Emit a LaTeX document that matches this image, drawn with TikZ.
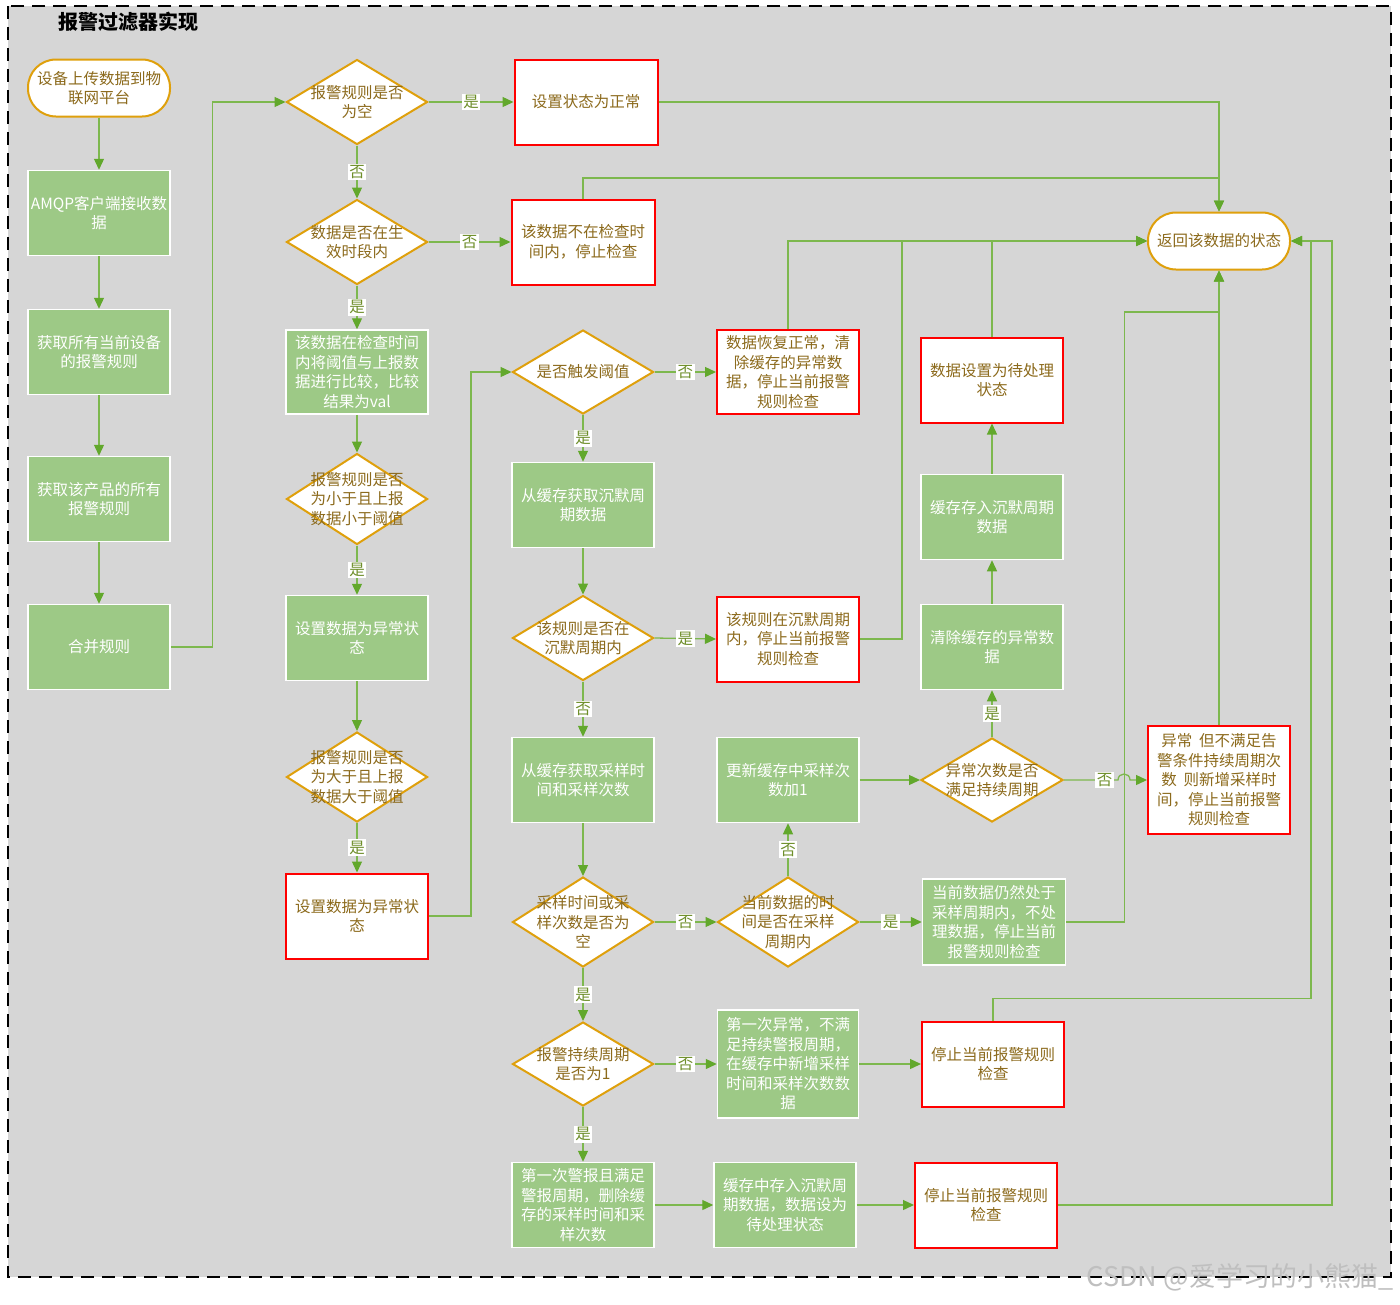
\documentclass[tikz,border=0pt]{standalone}
\usepackage{fontspec}
\setmainfont{Noto Sans CJK SC}
\usetikzlibrary{arrows.meta,shapes.geometric,calc}

\definecolor{bggray}{HTML}{D6D6D6}
\definecolor{boxgreen}{HTML}{9DC986}
\definecolor{linegreen}{HTML}{7DB84E}
\definecolor{tipgreen}{HTML}{62A82C}
\definecolor{gold}{HTML}{DFA00C}
\definecolor{txtbrown}{HTML}{8C6A1C}
\definecolor{lbltxt}{HTML}{6E8E2A}

\newcommand\nodefont{\fontsize{15.5}{19.5}\selectfont}

\begin{document}
\begin{tikzpicture}[x=1pt,y=-1pt,
  every node/.style={font=\nodefont, align=center},
  gbox/.style={rectangle, fill=boxgreen, draw=white, line width=1.5pt, text=white,
    minimum width=142pt, minimum height=85pt, inner sep=0pt},
  rbox/.style={rectangle, fill=white, draw=red, line width=2pt, text=txtbrown,
    minimum width=142pt, minimum height=85pt, inner sep=0pt},
  term/.style={rectangle, rounded corners=28pt, fill=white, draw=gold, line width=2pt,
    text=txtbrown, minimum width=142pt, minimum height=57pt, inner sep=0pt},
  dia/.style={diamond, fill=white, draw=gold, line width=2pt,
    minimum width=141pt, minimum height=85pt, inner sep=0pt},
  dtext/.style={text=txtbrown, align=center, inner sep=0pt},
  flow/.style={draw=linegreen, line width=1.3pt,
    -{Triangle[length=11pt,width=10pt,color=tipgreen]}},
  lbl/.style={fill=white, inner sep=1.5pt, text=lbltxt},
]

% canvas and dashed frame
\useasboundingbox[fill=white] (0,0) rectangle (1400,1304);
\draw[fill=bggray, draw=black, line width=2pt, dash pattern=on 13pt off 8pt] (8,6) rectangle (1391,1277);
\node[font=\fontsize{20}{24}\selectfont\bfseries, text=black] (title) at (128,22) {报警过滤器实现};

% column 1: intake
\node[term] (start) at (99,88) {设备上传数据到物\\联网平台};
\node[gbox] (amqp) at (99,213) {AMQP客户端接收数\\据};
\node[gbox] (devrules) at (99,352) {获取所有当前设备\\的报警规则};
\node[gbox] (prodrules) at (99,499) {获取该产品的所有\\报警规则};
\node[gbox] (merge) at (99,647) {合并规则};

% column 2: rule checks
\node[dia, label={[dtext]center:{报警规则是否\\为空}}] (d1) at (357,102) {};
\node[dia, label={[dtext]center:{数据是否在生\\效时段内}}] (d2) at (357,242) {};
\node[gbox, minimum height=84pt] (cmp) at (357,372) {该数据在检查时间\\内将阈值与上报数\\据进行比较，比较\\结果为val};
\node[dia, minimum height=91pt, label={[dtext]center:{报警规则是否\\为小于且上报\\数据小于阈值}}] (d3) at (357,499) {};
\node[gbox] (abn1) at (357,638) {设置数据为异常状\\态};
\node[dia, minimum height=90pt, label={[dtext]center:{报警规则是否\\为大于且上报\\数据大于阈值}}] (d4) at (357,777) {};
\node[rbox] (abn2) at (357,916) {设置数据为异常状\\态};

% column 3
\node[rbox, minimum width=143pt] (normal) at (586,102) {设置状态为正常};
\node[rbox, minimum width=143pt] (outtime) at (583,242) {该数据不在检查时\\间内，停止检查};
\node[dia, minimum height=84pt, label={[dtext]center:{是否触发阈值}}] (d5) at (583,372) {};
\node[gbox] (getsil) at (583,505) {从缓存获取沉默周\\期数据};
\node[dia, label={[dtext]center:{该规则是否在\\沉默周期内}}] (d6) at (583,638) {};
\node[gbox] (getsamp) at (583,780) {从缓存获取采样时\\间和采样次数};
\node[dia, minimum height=90pt, label={[dtext]center:{采样时间或采\\样次数是否为\\空}}] (d7) at (583,922) {};
\node[dia, minimum height=84pt, label={[dtext]center:{报警持续周期\\是否为1}}] (d10) at (583,1064) {};
\node[gbox] (firstalarm) at (583,1205) {第一次警报且满足\\警报周期，删除缓\\存的采样时间和采\\样次数};

% column 4
\node[rbox, minimum height=84pt] (recover) at (788,372) {数据恢复正常，清\\除缓存的异常数\\据，停止当前报警\\规则检查};
\node[rbox] (insil) at (788,639) {该规则在沉默周期\\内，停止当前报警\\规则检查};
\node[gbox] (addcnt) at (788,780) {更新缓存中采样次\\数加1};
\node[dia, minimum height=90pt, label={[dtext]center:{当前数据的时\\间是否在采样\\周期内}}] (d8) at (788,922) {};
\node[gbox, minimum width=141pt, minimum height=108pt] (firstabn) at (788,1064) {第一次异常，不满\\足持续警报周期，\\在缓存中新增采样\\时间和采样次数数\\据};
\node[gbox] (savesil2) at (785,1205) {缓存中存入沉默周\\期数据，数据设为\\待处理状态};

% column 5
\node[rbox] (pending) at (992,380) {数据设置为待处理\\状态};
\node[gbox] (savesil) at (992,517) {缓存存入沉默周期\\数据};
\node[gbox] (clear) at (992,647) {清除缓存的异常数\\据};
\node[dia, minimum width=142pt, minimum height=84pt, label={[dtext]center:{异常次数是否\\满足持续周期}}] (d9) at (992,780) {};
\node[gbox, minimum width=143pt, minimum height=86pt] (still) at (994,922) {当前数据仍然处于\\采样周期内，不处\\理数据，停止当前\\报警规则检查};
\node[rbox] (stop1) at (993,1064) {停止当前报警规则\\检查};
\node[rbox] (stop2) at (986,1205) {停止当前报警规则\\检查};

% column 6
\node[term] (ret) at (1219,241) {返回该数据的状态};
\node[rbox, minimum height=108pt] (partial) at (1219,780) {异常\ \ 但不满足告\\警条件持续周期次\\数\ \ 则新增采样时\\间，停止当前报警\\规则检查};

% junction points on the return routes
\coordinate (jtop) at (1219,178);
\coordinate (jbot) at (1219,312);
\coordinate (jr1) at (1311,241);
\coordinate (jr2) at (1332,241);
\coordinate (hop) at (1124,780);

% intake chain
\draw[flow] (start) -- (amqp);
\draw[flow] (amqp) -- (devrules);
\draw[flow] (devrules) -- (prodrules);
\draw[flow] (prodrules) -- (merge);
\draw[flow] (merge.east) -- ++(42,0) |- (d1.west);

% rule checks
\draw[flow] (d1.east) -- node[lbl]{是} (normal.west);
\draw[flow] (d1.south) -- node[lbl]{否} (d2.north);
\draw[flow] (d2.east) -- node[lbl]{否} (outtime.west);
\draw[flow] (d2.south) -- node[lbl]{是} (cmp.north);
\draw[flow] (cmp.south) -- (d3.north);
\draw[flow] (d3.south) -- node[lbl]{是} (abn1.north);
\draw[flow] (abn1.south) -- (d4.north);
\draw[flow] (d4.south) -- node[lbl]{是} (abn2.north);
\draw[flow] (abn2.east) -- ++(42,0) |- (d5.west);

% returns to the state node
\draw[flow] (normal.east) -| (ret.north);
\draw[flow] (outtime.north) |- (jtop) -- (ret.north);
\draw[flow] (recover.north) |- (ret.west);
\draw[flow] (insil.east) -- ++(42,0) |- (ret.west);
\draw[flow] (pending.north) |- (ret.west);
\draw[flow] (partial.north) -- (ret.south);
\draw[flow] (still.east) -- ++(58,0) |- (jbot) -- (ret.south);
\draw[flow] (stop1.north) -- ++(0,-22) -| (jr1) -- (ret.east);
\draw[flow] (stop2.east) -| (jr2) -- (ret.east);

% threshold and silence checks
\draw[flow] (d5.east) -- node[lbl]{否} (recover.west);
\draw[flow] (d5.south) -- node[lbl]{是} (getsil.north);
\draw[flow] (getsil.south) -- (d6.north);
\draw[flow] (d6.east) -- node[lbl]{是} (insil.west);
\draw[flow] (d6.south) -- node[lbl]{否} (getsamp.north);
\draw[flow] (getsamp.south) -- (d7.north);

% sampling branch
\draw[flow] (d7.east) -- node[lbl]{否} (d8.west);
\draw[flow] (d8.north) -- node[lbl]{否} (addcnt.south);
\draw[flow] (d8.east) -- node[lbl]{是} (still.west);
\draw[flow] (addcnt.east) -- (d9.west);
\draw[flow] (d9.north) -- node[lbl]{是} (clear.south);
\draw[flow] (clear.north) -- (savesil.south);
\draw[flow] (savesil.north) -- (pending.south);
\draw[flow] (d9.east) -- node[lbl, pos=0.75]{否} ($(hop)+(-6,0)$)
  .. controls ($(hop)+(-6,-8)$) and ($(hop)+(6,-8)$) .. ($(hop)+(6,0)$) -- (partial.west);

% alarm period branch
\draw[flow] (d7.south) -- node[lbl]{是} (d10.north);
\draw[flow] (d10.east) -- node[lbl]{否} (firstabn.west);
\draw[flow] (firstabn.east) -- (stop1.west);
\draw[flow] (d10.south) -- node[lbl]{是} (firstalarm.north);
\draw[flow] (firstalarm.east) -- (savesil2.west);
\draw[flow] (savesil2.east) -- (stop2.west);

% author mark
\node[text=black!25, font=\fontsize{27}{27}\selectfont] (mark) at (1240,1277) {CSDN @爱学习的小熊猫\_};
\end{tikzpicture}
\end{document}
